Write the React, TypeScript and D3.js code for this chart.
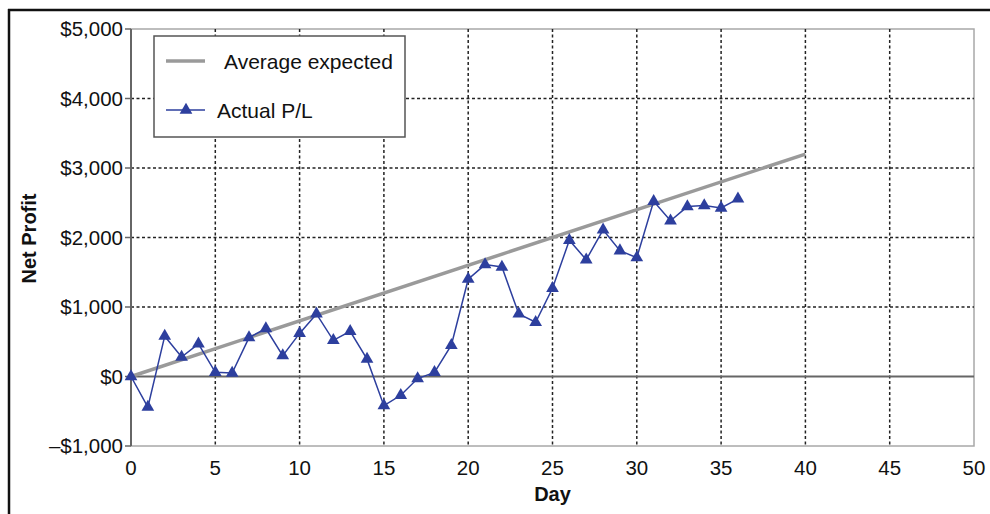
import React from "react";
import * as d3 from "d3";

const days: number[] = [0,1,2,3,4,5,6,7,8,9,10,11,12,13,14,15,16,17,18,19,20,21,22,23,24,25,26,27,28,29,30,31,32,33,34,35,36];
const actualPL: number[] = [0,-440,580,280,470,60,50,560,690,300,620,900,520,650,250,-420,-270,-30,60,450,1400,1610,1575,900,780,1270,1960,1680,2110,1810,1710,2520,2240,2445,2460,2425,2555];
const expectedDays: number[] = [0, 40];
const expectedValues: number[] = [0, 3200];
const xTicks: number[] = [0,5,10,15,20,25,30,35,40,45,50];
const yTicks: number[] = [-1000,0,1000,2000,3000,4000,5000];
const seriesNames: string[] = ["Average expected", "Actual P/L"];

const W = 990, H = 514;
const L = 131, R = 974, T = 29, B = 446;
const FONT = "'Liberation Sans', Arial, Helvetica, sans-serif";
const BLUE = "#2d3f9e";
const GRAY = "#9a9a9a";

export default function App() {
  const x = d3.scaleLinear().domain([0, 50]).range([L, R]);
  const y = d3.scaleLinear().domain([-1000, 5000]).range([B, T]);
  const fmt = (v: number) => (v < 0 ? "\u2013$" : "$") + d3.format(",")(Math.abs(v));
  const lineGen = d3.line<[number, number]>().x(d => x(d[0])).y(d => y(d[1]));
  const actualPts: [number, number][] = days.map((d, i) => [d, actualPL[i]]);
  const expPts: [number, number][] = expectedDays.map((d, i) => [d, expectedValues[i]]);
  const tri = d3.symbol().type(d3.symbolTriangle).size(70)();

  return (
    <svg width={W} height={H} style={{ position: "absolute", left: 0, top: 0, background: "#fff" }} fontFamily={FONT}>
      {/* outer frame */}
      <line x1={8} y1={10} x2={W} y2={10} stroke="#111" strokeWidth={2.5} />
      <line x1={9} y1={9} x2={9} y2={H} stroke="#111" strokeWidth={2.5} />
      {/* plot border */}
      <rect x={L} y={T} width={R - L} height={B - T} fill="none" stroke="#a8a8a8" strokeWidth={1.5} />
      {/* grid */}
      {yTicks.filter(v => v !== 0 && v !== -1000 && v !== 5000).map(v => (
        <line key={"gy" + v} x1={L} x2={R} y1={y(v)} y2={y(v)} stroke="#222" strokeWidth={1.5} strokeDasharray="3,2.5" />
      ))}
      {xTicks.filter(v => v !== 0 && v !== 50).map(v => (
        <line key={"gx" + v} x1={x(v)} x2={x(v)} y1={T} y2={B} stroke="#222" strokeWidth={1.5} strokeDasharray="3,2.5" />
      ))}
      {/* zero line */}
      <line x1={L} x2={R} y1={y(0)} y2={y(0)} stroke="#666" strokeWidth={2} />
      {/* y axis */}
      <line x1={L} x2={L} y1={T} y2={B} stroke="#666" strokeWidth={2} />
      {yTicks.map(v => (
        <g key={"yt" + v}>
          <line x1={L - 6} x2={L} y1={y(v)} y2={y(v)} stroke="#666" strokeWidth={1.5} />
          <text x={L - 8} y={y(v)} dy="0.36em" textAnchor="end" fontSize={20.5} fill="#111">{fmt(v)}</text>
        </g>
      ))}
      {xTicks.map(v => (
        <text key={"xt" + v} x={x(v)} y={B + 22} dy="0.36em" textAnchor="middle" fontSize={20.5} fill="#111">{v}</text>
      ))}
      {/* series */}
      <path d={lineGen(expPts) || ""} fill="none" stroke={GRAY} strokeWidth={3.5} />
      <path d={lineGen(actualPts) || ""} fill="none" stroke={BLUE} strokeWidth={1.5} />
      {actualPts.map((p, i) => (
        <path key={"m" + i} d={tri || ""} transform={`translate(${x(p[0])},${y(p[1])})`} fill={BLUE} />
      ))}
      {/* axis titles */}
      <text transform={`translate(36,${(T + B) / 2 + 1}) rotate(-90)`} textAnchor="middle" fontSize={20} fontWeight="bold" fill="#111">Net Profit</text>
      <text x={(L + R) / 2} y={501} textAnchor="middle" fontSize={20} fontWeight="bold" fill="#111">Day</text>
      {/* legend */}
      <rect x={154} y={36} width={251} height={101} fill="#fff" stroke="#555" strokeWidth={1.5} />
      <line x1={166} x2={205} y1={61} y2={61} stroke={GRAY} strokeWidth={3.5} />
      <text x={224} y={61} dy="0.36em" fontSize={21} fill="#111">{seriesNames[0]}</text>
      <line x1={166} x2={205} y1={110} y2={110} stroke={BLUE} strokeWidth={1.5} />
      <path d={tri || ""} transform="translate(186,110)" fill={BLUE} />
      <text x={217} y={110} dy="0.36em" fontSize={21} fill="#111">{seriesNames[1]}</text>
    </svg>
  );
}
